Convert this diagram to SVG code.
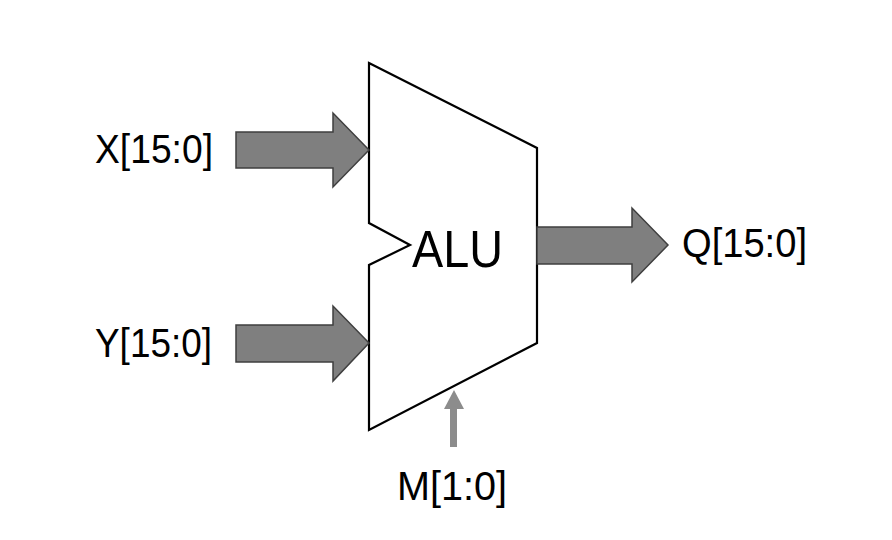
<svg xmlns="http://www.w3.org/2000/svg" width="892" height="540" viewBox="0 0 892 540">
<style>
.bus{fill:#7f7f7f;stroke:#3f3f3f;stroke-width:1.5;stroke-linejoin:miter}
.lbl{font-family:"Liberation Sans",Arial,sans-serif;font-size:40px;fill:#000}
</style>
<rect width="892" height="540" fill="#fff"/>
<g id="alu">
<polygon points="369,63 537,148 537,343 369,430 369,265 410,245 369,223" fill="#fff" stroke="#000" stroke-width="2.2" stroke-linejoin="miter"/>
<text class="lbl" x="412" y="267" style="font-size:52px" textLength="91" lengthAdjust="spacingAndGlyphs">ALU</text>
</g>
<g id="connectors">
<polygon class="bus" points="236,132 333,132 333,113 369,150 333,187 333,168 236,168"/>
<polygon class="bus" points="236,325 333,325 333,306 369,343 333,381 333,362 236,362"/>
<polygon class="bus" points="537,227 632,227 632,208 668,245 632,282 632,264 537,264"/>
<polygon points="450,447 457,447 457,409 464,409 454,390 444,409 450,409" fill="#8c8c8c"/>
</g>
<g id="x"><text class="lbl" x="95" y="163" textLength="118" lengthAdjust="spacingAndGlyphs">X[15:0]</text></g>
<g id="y"><text class="lbl" x="95" y="357" textLength="117" lengthAdjust="spacingAndGlyphs">Y[15:0]</text></g>
<g id="q"><text class="lbl" x="682" y="257" textLength="125" lengthAdjust="spacingAndGlyphs">Q[15:0]</text></g>
<g id="m"><text class="lbl" x="397" y="500" textLength="110" lengthAdjust="spacingAndGlyphs">M[1:0]</text></g>
</svg>
